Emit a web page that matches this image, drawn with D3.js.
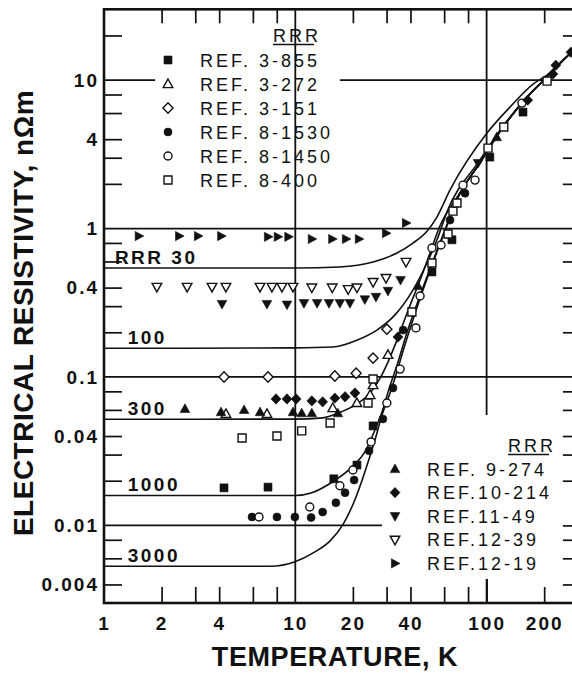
<!DOCTYPE html>
<html>
<head>
<meta charset="utf-8">
<script src="https://cdn.jsdelivr.net/npm/d3@7"></script>
<style>
  html, body { margin: 0; padding: 0; background: #fff; }
  svg { display: block; font-family: "Liberation Sans", Arial, Helvetica, sans-serif; }
  .domain { display: none; }
  .ticks .tick line { stroke: #111; stroke-width: 1.7; }
  .labels .tick text { fill: #111; font-size: 19px; font-weight: bold; letter-spacing: 2px; }
</style>
</head>
<body>
<svg id="chart" width="572" height="673"></svg>
<script>
// values: temperature in K, resistivity in nOhm m
var xTickLabels = [1, 2, 4, 10, 20, 40, 100, 200];
var yTickLabels = [0.004, 0.01, 0.04, 0.1, 0.4, 1, 4, 10];
var xMinorTicks = [2, 3, 4, 6, 8, 20, 30, 40, 60, 80, 200];
var yMinorTicks = [0.004, 0.006, 0.008, 0.02, 0.03, 0.04, 0.06, 0.08,
  0.2, 0.3, 0.4, 0.6, 0.8, 2, 3, 4, 6, 8, 20];

// calculated curves, one per RRR
var curveLabels = ['RRR 30', '100', '300', '1000', '3000'];
var curveRRR30 = [[1, 0.542], [10, 0.542], [17, 0.551], [25.5, 0.595], [34, 0.684], [41.2, 0.798],
  [48.8, 0.96], [55, 1.195], [64.4, 1.82], [100.5, 4.4], [132.5, 6.58], [175, 9.4], [207, 10.8],
  [279, 15.4], [300, 16.4]];
var curveRRR100 = [[1, 0.156], [10, 0.157], [15.7, 0.159], [21, 0.177], [26.7, 0.207], [33.2, 0.262],
  [41.2, 0.385], [48.8, 0.586], [55, 0.837], [62, 1.29], [92.4, 2.9], [122, 4.9], [163, 7.72],
  [207, 10.5], [279, 15.4], [300, 16.4]];
var curveRRR300 = [[1, 0.0519], [10, 0.052], [13.9, 0.053], [16.9, 0.0573], [21, 0.0658], [24.6, 0.078],
  [27.8, 0.0985], [30.5, 0.126], [34, 0.177], [38.4, 0.27], [44.9, 0.45], [50.6, 0.684], [57, 1.04],
  [70, 1.62], [92.4, 2.8], [122, 4.84], [163, 7.7], [207, 10.5], [279, 15.4], [300, 16.4]];
var curveRRR1000 = [[1, 0.0159], [10, 0.0159], [12.2, 0.0166], [15.9, 0.0199], [19.8, 0.0248],
  [23.4, 0.0322], [26.1, 0.044], [28.4, 0.0581], [30.9, 0.083], [34, 0.12], [38.4, 0.2], [46.5, 0.4],
  [55, 0.71], [64.4, 1.2], [70, 1.57], [92.4, 2.77], [122, 4.82], [163, 7.69], [207, 10.5],
  [279, 15.4], [300, 16.4]];
var curveRRR3000 = [[1, 0.0053], [7.4, 0.0053], [9.95, 0.00568], [12.4, 0.00653], [15.2, 0.00786],
  [17.8, 0.0102], [20.5, 0.0149], [23.1, 0.0229], [26.1, 0.0377], [28.4, 0.0555], [31.3, 0.078],
  [38.4, 0.183], [46.5, 0.385], [55, 0.695], [64.4, 1.18], [70, 1.56], [92.4, 2.76], [122, 4.82],
  [163, 7.69], [207, 10.5], [279, 15.4], [300, 16.4]];

// measured points
var ref3_855 = [[4.24, 0.0179], [7.2, 0.0181], [15.9, 0.0206], [21, 0.0255], [25.5, 0.0468],
  [51.8, 0.51], [65.9, 0.84], [104, 3.03], [155, 6.09]];
var ref3_272 = [[4.34, 0.0564], [7.11, 0.0564], [15.7, 0.0618], [21, 0.0668], [24.6, 0.0756],
  [25.5, 0.0883], [30.5, 0.141]];
var ref3_151 = [[4.24, 0.1], [7.2, 0.1], [16.1, 0.1016], [20.8, 0.106], [25.5, 0.134], [30.1, 0.21]];
var ref8_1530 = [[5.94, 0.0114], [8.02, 0.0114], [9.95, 0.0114], [12.1, 0.0113], [13.9, 0.0123],
  [16.3, 0.0142], [18.2, 0.0166], [20.3, 0.0202], [24.3, 0.0318], [28.7, 0.0521], [32.4, 0.0843],
  [36.6, 0.207], [64.4, 1.14], [77.1, 1.73]];
var ref8_1450 = [[6.46, 0.0114], [11.9, 0.0133], [17.1, 0.0185], [20, 0.0236], [24.9, 0.0365],
  [30.1, 0.0668], [35.3, 0.113], [42.7, 0.214], [44.9, 0.351], [51.8, 0.739], [57.8, 0.774],
  [75.3, 1.96], [87, 2.12], [153, 7.0]];
var ref8_400 = [[5.27, 0.0388], [8.02, 0.04], [10.8, 0.0433], [15.2, 0.049], [24, 0.0668], [25.5, 0.097],
  [40.7, 0.274], [51.8, 0.586], [62.9, 0.918], [66.7, 1.31], [70, 1.485], [101.7, 3.48], [123, 4.83],
  [207, 9.84]];
var ref9_274 = [[2.65, 0.061], [4.09, 0.058], [5.4, 0.06], [6.54, 0.058], [9.73, 0.058], [10.8, 0.057],
  [12.2, 0.057], [16.7, 0.057], [43.8, 0.41], [113, 4.13]];
var ref10_214 = [[7.93, 0.0711], [9.05, 0.0711], [10.1, 0.0711], [12.2, 0.069], [13.9, 0.068],
  [16.1, 0.072], [18.2, 0.0735], [20.5, 0.078], [34.4, 0.186], [164, 7.33], [222, 11.0], [230, 12.6],
  [276, 15.4]];
var ref11_49 = [[4.14, 0.31], [7.11, 0.31], [9.05, 0.307], [11.1, 0.314], [13, 0.314], [15, 0.314],
  [17.1, 0.314], [19.3, 0.314], [23.1, 0.333], [26.4, 0.346], [30.5, 0.38], [35.5, 0.45], [90.2, 2.76]];
var ref12_39 = [[1.89, 0.404], [2.72, 0.404], [3.67, 0.404], [4.34, 0.404], [6.54, 0.404], [7.55, 0.404],
  [8.52, 0.404], [9.73, 0.404], [12.2, 0.4], [15.6, 0.4], [18.9, 0.39], [21, 0.4], [25.5, 0.436],
  [29.8, 0.464], [37.9, 0.595]];
var ref12_19 = [[1.52, 0.89], [2.47, 0.89], [3.1, 0.89], [4.1, 0.89], [7.2, 0.88], [8.1, 0.88],
  [9.2, 0.88], [12.2, 0.85], [15.6, 0.85], [18.4, 0.85], [21.5, 0.85], [29.8, 0.93], [37.9, 1.09]];

var seriesNames = ['REF. 3-855', 'REF. 3-272', 'REF. 3-151', 'REF. 8-1530', 'REF. 8-1450', 'REF. 8-400',
  'REF. 9-274', 'REF.10-214', 'REF.11-49', 'REF.12-39', 'REF.12-19'];

(function () {
  var ink = '#111';
  var svg = d3.select('#chart');

  var x = d3.scaleLog().domain([1, 300]).range([104, 104 + Math.log10(300) * 191.3]);
  var y = d3.scaleLog().domain([0.003, 30]).range([603, 9.3]);

  var curves = [curveRRR30, curveRRR100, curveRRR300, curveRRR1000, curveRRR3000];
  var shapes = ['square', 'triUp', 'diamond', 'circle', 'circle', 'square',
    'triUp', 'diamond', 'triDown', 'triDown', 'triRight'];
  var filled = [true, false, false, true, false, false, true, true, true, false, true];
  var values = [ref3_855, ref3_272, ref3_151, ref8_1530, ref8_1450, ref8_400,
    ref9_274, ref10_214, ref11_49, ref12_39, ref12_19];
  var series = seriesNames.map(function (name, i) {
    return { name: name, shape: shapes[i], filled: filled[i], values: values[i] };
  });

  function markerPath(shape) {
    switch (shape) {
      case 'square': return 'M-4,-4H4V4H-4Z';
      case 'circle': return d3.symbol(d3.symbolCircle, 50)();
      case 'triUp': return 'M0,-5L4.8,3.6H-4.8Z';
      case 'triDown': return 'M0,5L4.8,-3.6H-4.8Z';
      case 'triRight': return 'M5,0L-3.6,-4.6V4.6Z';
      default: return 'M0,-5.2L5,0L0,5.2L-5,0Z';
    }
  }

  function styleMarker(sel, d) {
    sel.attr('d', markerPath(d.shape))
      .attr('fill', d.filled ? ink : '#fff')
      .attr('stroke', ink)
      .attr('stroke-width', d.filled ? 0.6 : 1.4);
  }

  // grid lines (broken where the legends sit)
  var hGrid = [[10, 1, 1.85], [10, 17.1, 300], [1, 1, 300], [0.1, 1, 300], [0.01, 1, 28.4]];
  var vGrid = [[10, 0.003, 30], [100, 0.0555, 30], [100, 0.003, 0.00436]];
  var grid = svg.append('g').attr('stroke', ink).attr('stroke-width', 1.8);
  grid.selectAll('line.h').data(hGrid).enter().append('line')
    .attr('x1', function (d) { return x(d[1]); })
    .attr('x2', function (d) { return x(d[2]); })
    .attr('y1', function (d) { return y(d[0]); })
    .attr('y2', function (d) { return y(d[0]); });
  grid.selectAll('line.v').data(vGrid).enter().append('line')
    .attr('x1', function (d) { return x(d[0]); })
    .attr('x2', function (d) { return x(d[0]); })
    .attr('y1', function (d) { return y(d[1]); })
    .attr('y2', function (d) { return y(d[2]); });

  // minor ticks on all four sides, pointing inwards
  function ticks(axis, tx, ty) {
    svg.append('g').attr('class', 'ticks')
      .attr('transform', 'translate(' + tx + ',' + ty + ')')
      .call(axis.tickFormat(''));
  }
  ticks(d3.axisBottom(x).tickValues(xMinorTicks).tickSizeInner(-16).tickSizeOuter(0), 0, 603);
  ticks(d3.axisBottom(x).tickValues([100]).tickSizeInner(-24).tickSizeOuter(0), 0, 603);
  ticks(d3.axisTop(x).tickValues(xMinorTicks).tickSizeInner(-14).tickSizeOuter(0), 0, y.range()[1]);
  ticks(d3.axisLeft(y).tickValues(yMinorTicks).tickSizeInner(-18).tickSizeOuter(0), 104, 0);
  ticks(d3.axisRight(y).tickValues(yMinorTicks.concat([0.01])).tickSizeInner(-15).tickSizeOuter(0), x.range()[1], 0);

  // tick labels
  svg.append('g').attr('class', 'labels')
    .attr('transform', 'translate(0,603)')
    .call(d3.axisBottom(x).tickValues(xTickLabels).tickSize(0).tickPadding(14).tickFormat(d3.format('')));
  svg.append('g').attr('class', 'labels')
    .attr('transform', 'translate(104,0)')
    .call(d3.axisLeft(y).tickValues(yTickLabels).tickSize(0).tickPadding(5).tickFormat(d3.format('')));
  svg.selectAll('.labels path.domain').remove();

  // frame
  svg.append('rect')
    .attr('x', x.range()[0]).attr('y', y.range()[1])
    .attr('width', x.range()[1] - x.range()[0])
    .attr('height', y.range()[0] - y.range()[1])
    .attr('fill', 'none').attr('stroke', ink).attr('stroke-width', 2.6);

  // curves
  var line = d3.line()
    .x(function (d) { return x(d[0]); })
    .y(function (d) { return y(d[1]); })
    .curve(d3.curveMonotoneX);
  svg.append('g').selectAll('path').data(curves).enter().append('path')
    .attr('d', line)
    .attr('fill', 'none').attr('stroke', ink).attr('stroke-width', 1.6);

  svg.append('g').selectAll('text').data(curves).enter().append('text')
    .attr('x', function (d, i) { return x(i === 0 ? 1.14 : 1.33); })
    .attr('y', function (d) { return y(d[0][1]) - 4.5; })
    .attr('fill', ink).attr('font-size', 19).attr('font-weight', 'bold')
    .attr('letter-spacing', 2.5)
    .text(function (d, i) { return curveLabels[i]; });

  // data markers
  series.forEach(function (s) {
    svg.append('g').selectAll('path').data(s.values).enter().append('path')
      .attr('transform', function (d) { return 'translate(' + x(d[0]) + ',' + y(d[1]) + ')'; })
      .each(function () { styleMarker(d3.select(this), s); });
  });

  // legends
  function legend(items, hx, hy, mx, tx, top, step) {
    var g = svg.append('g').attr('fill', ink);
    g.append('text').attr('x', hx).attr('y', hy)
      .attr('font-size', 18).attr('letter-spacing', 3).text('RRR');
    g.append('line').attr('x1', hx).attr('x2', hx + 41)
      .attr('y1', hy + 2.5).attr('y2', hy + 2.5)
      .attr('stroke', ink).attr('stroke-width', 1.6);
    items.forEach(function (s, i) {
      var cy = top + i * step;
      g.append('path').attr('transform', 'translate(' + mx + ',' + cy + ')')
        .call(styleMarker, s);
      g.append('text').attr('x', tx).attr('y', cy + 6.5)
        .attr('font-size', 18).attr('letter-spacing', 3).text(s.name);
    });
  }
  legend(series.slice(0, 6), 273, 42, 168, 200, 60, 24);
  legend(series.slice(6), 508, 452, 395, 427, 469, 23.6);

  // axis titles
  svg.append('text')
    .attr('x', 335).attr('y', 666)
    .attr('text-anchor', 'middle')
    .attr('font-size', 27).attr('font-weight', 'bold').attr('fill', ink)
    .attr('letter-spacing', 0.6)
    .text('TEMPERATURE, K');
  svg.append('text')
    .attr('transform', 'translate(33,313)rotate(-90)')
    .attr('text-anchor', 'middle')
    .attr('font-size', 28).attr('font-weight', 'bold').attr('fill', ink)
    .attr('letter-spacing', 0.5)
    .text('ELECTRICAL RESISTIVITY, n\u03A9m');
})();
</script>
</body>
</html>
